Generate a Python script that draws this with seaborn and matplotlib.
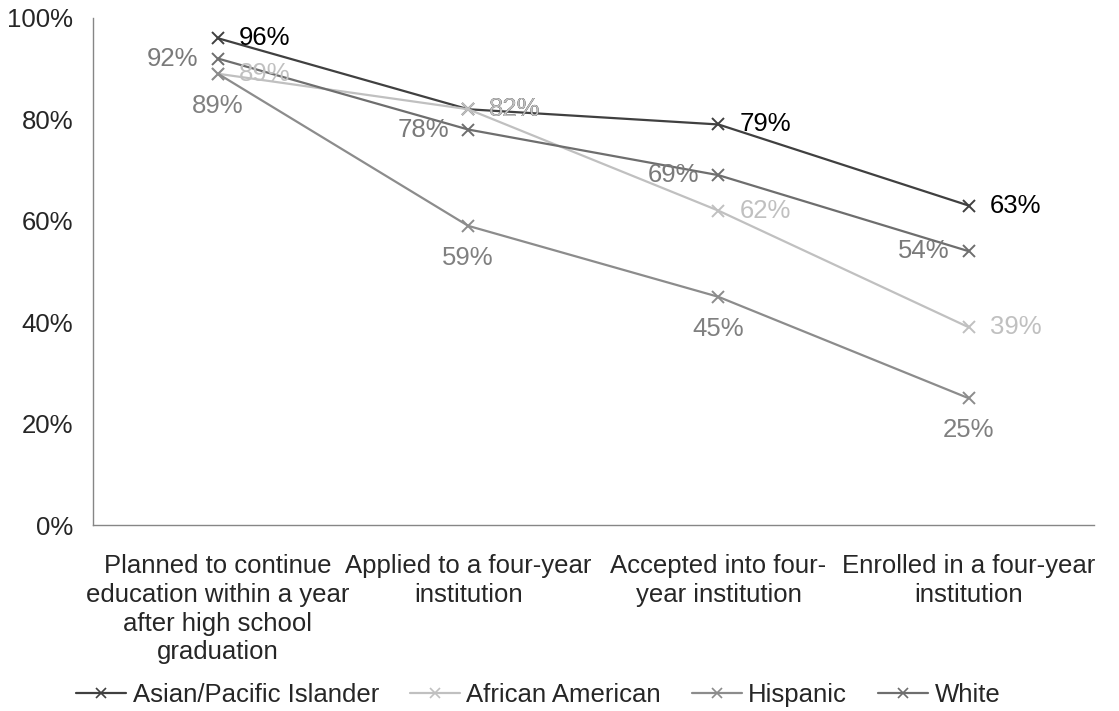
import matplotlib
matplotlib.use("Agg")
import matplotlib.pyplot as plt
import seaborn as sns
import pandas as pd
from matplotlib.lines import Line2D
from matplotlib.ticker import FixedLocator

stages = [
    "Planned to continue\neducation within a year\nafter high school\ngraduation",
    "Applied to a four-year\ninstitution",
    "Accepted into four-\nyear institution",
    "Enrolled in a four-year\ninstitution",
]
asian = [96, 82, 79, 63]
african_american = [89, 82, 62, 39]
hispanic = [89, 59, 45, 25]
white = [92, 78, 69, 54]

series_names = ["Asian/Pacific Islander", "African American", "Hispanic", "White"]
series_values = [asian, african_american, hispanic, white]
line_colors = ["#404040", "#c0c0c0", "#8c8c8c", "#6e6e6e"]
label_colors = ["#000000", "#c0c0c0", "#808080", "#7a7a7a"]
label_pos = ["right", "right", "below", "left"]

FS = 18.5

sns.set_style("white")
plt.rcParams["font.family"] = ["Liberation Sans", "DejaVu Sans"]

fig = plt.figure(figsize=(11.19, 7.11), dpi=100)
ax = fig.add_axes([0.083, 0.2616, 0.8945, 0.7131])

x_idx = list(range(len(stages)))
for name, vals, col in zip(series_names, series_values, line_colors):
    df = pd.DataFrame({"stage": x_idx, "value": vals})
    sns.lineplot(data=df, x="stage", y="value", ax=ax, color=col, lw=1.6,
                 marker="x", markersize=9, markeredgewidth=1.4,
                 markeredgecolor=col, label=name, legend=False)

for vals, tcol, pos in zip(series_values, label_colors, label_pos):
    for i, v in enumerate(vals):
        txt = f"{v}%"
        if pos == "right":
            ax.annotate(txt, (i, v), xytext=(15, 0), textcoords="offset points",
                        ha="left", va="center", color=tcol, fontsize=FS)
        elif pos == "left":
            ax.annotate(txt, (i, v), xytext=(-14, 0), textcoords="offset points",
                        ha="right", va="center", color=tcol, fontsize=FS)
        else:
            ax.annotate(txt, (i, v), xytext=(0, -23), textcoords="offset points",
                        ha="center", va="center", color=tcol, fontsize=FS)

ax.set_xlim(-0.5, len(stages) - 0.5)
ax.set_ylim(0, 100)
ax.set_yticks([0, 20, 40, 60, 80, 100])
ax.set_yticklabels([f"{t}%" for t in [0, 20, 40, 60, 80, 100]], fontsize=FS)
ax.set_xticks(x_idx)
ax.set_xticklabels(stages, fontsize=FS, linespacing=1.25)
ax.xaxis.set_minor_locator(FixedLocator([i - 0.5 for i in range(len(stages) + 1)]))
ax.tick_params(axis="x", which="major", length=0, pad=21)
ax.tick_params(axis="x", which="minor", length=6, color="#868686", width=1)
ax.tick_params(axis="y", which="major", length=6, color="#868686", width=1, pad=8)
ax.set_xlabel("")
ax.set_ylabel("")

for side in ["top", "right"]:
    ax.spines[side].set_visible(False)
for side in ["left", "bottom"]:
    ax.spines[side].set_color("#868686")
    ax.spines[side].set_linewidth(1)

handles = [Line2D([0], [0], color=c, lw=1.6, marker="x", markersize=7,
                  markeredgewidth=1.2) for c in line_colors]
fig.legend(handles, series_names, loc="center", bbox_to_anchor=(0.481, 0.0225),
           ncol=4, frameon=False, fontsize=FS, handlelength=1.95,
           handletextpad=0.25, columnspacing=1.2)

fig.savefig("out.png", dpi=100)
